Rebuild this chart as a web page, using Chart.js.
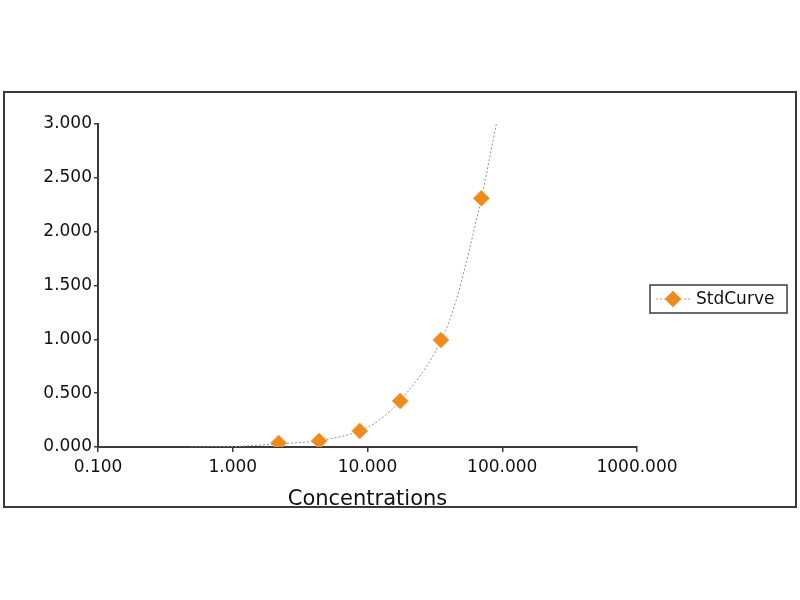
<!DOCTYPE html>
<html>
<head>
<meta charset="utf-8">
<script src="https://cdn.jsdelivr.net/npm/chart.js@4"></script>
<style>
  body { margin: 0; background: #fff; }
  #frame {
    position: absolute; left: 3px; top: 91px;
    width: 790px; height: 413px;
    border: 2px solid #3a3a3a;
  }
  canvas { display: block; }
</style>
</head>
<body>
<div id="frame"><canvas id="c" width="790" height="413"></canvas></div>
<script>
// standards (concentration, OD)
const concentrations = [2.19, 4.38, 8.75, 17.5, 35, 70];
const odValues = [0.037, 0.056, 0.149, 0.427, 0.994, 2.31];

// fitted curve
const curveX = [0.49, 1.0, 2.2, 4.4, 8.75, 12.2, 17.5, 35.2, 45.5, 56.9, 70, 90.4];
const curveY = [0.0, 0.004, 0.03, 0.06, 0.15, 0.25, 0.43, 0.99, 1.36, 1.83, 2.31, 3.0];

const xTicks = [0.1, 1, 10, 100, 1000];
const yTicks = [0, 0.5, 1, 1.5, 2, 2.5, 3];

const seriesLabel = 'StdCurve';
const FONT = '"DejaVu Sans", "Liberation Sans", Arial, sans-serif';
const ORANGE = '#ef8a1c';
const AXIS = '#3a3a3a';

const toXY = (xs, ys) => xs.map((x, i) => ({ x, y: ys[i] }));

// boxed legend on the right, like the original
const boxLegend = {
  id: 'boxLegend',
  afterDraw(chart) {
    const { ctx } = chart;
    const ds = chart.data.datasets.find((d) => d.label === seriesLabel);
    const left = 645, top = 192, w = 137, h = 28;
    const cy = top + h / 2;
    ctx.save();
    ctx.strokeStyle = AXIS;
    ctx.lineWidth = 1.5;
    ctx.strokeRect(left, top, w, h);
    ctx.strokeStyle = '#9a9aa8';
    ctx.lineWidth = 1;
    ctx.setLineDash([2, 2]);
    ctx.beginPath();
    ctx.moveTo(left + 6, cy);
    ctx.lineTo(left + 40, cy);
    ctx.stroke();
    ctx.setLineDash([]);
    Chart.helpers.drawPoint(ctx, {
      pointStyle: 'rectRot', radius: 8, rotation: 0, borderWidth: 1,
    }, left + 23, cy);
    ctx.fillStyle = ds.backgroundColor;
    ctx.strokeStyle = ds.borderColor;
    ctx.fill();
    ctx.stroke();
    ctx.fillStyle = '#111';
    ctx.font = '17px ' + FONT;
    ctx.textBaseline = 'middle';
    ctx.fillText(ds.label, left + 46, cy + 1);
    ctx.restore();
  },
};

new Chart(document.getElementById('c'), {
  type: 'scatter',
  data: {
    datasets: [
      {
        label: seriesLabel,
        data: toXY(concentrations, odValues),
        pointStyle: 'rectRot',
        pointRadius: 8,
        backgroundColor: ORANGE,
        borderColor: '#f4a64f',
        borderWidth: 1,
        order: 0,
      },
      {
        label: 'fit',
        data: toXY(curveX, curveY),
        showLine: true,
        cubicInterpolationMode: 'monotone',
        pointRadius: 0,
        borderColor: '#8f8f9f',
        borderWidth: 1,
        borderDash: [2, 2],
        order: 1,
      },
    ],
  },
  options: {
    responsive: false,
    animation: false,
    layout: { padding: { left: 0, top: 31, right: 158, bottom: 0 } },
    plugins: {
      legend: { display: false },
      tooltip: { enabled: false },
    },
    scales: {
      x: {
        type: 'logarithmic',
        min: 0.1,
        max: 1000,
        afterBuildTicks: (scale) => { scale.ticks = xTicks.map((value) => ({ value })); },
        afterFit: (scale) => { scale.height = 59; },
        ticks: {
          color: '#111',
          font: { family: FONT, size: 17 },
          padding: 5,
          maxRotation: 0,
          callback: (v) => Number(v).toFixed(3),
        },
        grid: { drawOnChartArea: false, drawTicks: true, tickLength: 5, color: AXIS, lineWidth: 1.5 },
        border: { color: AXIS, width: 2 },
        title: {
          display: true,
          text: 'Concentrations',
          color: '#111',
          font: { family: FONT, size: 21 },
          padding: { top: 0, bottom: -6 },
        },
      },
      y: {
        min: 0,
        max: 3,
        afterBuildTicks: (scale) => { scale.ticks = yTicks.map((value) => ({ value })); },
        afterFit: (scale) => { scale.width = 93; },
        ticks: {
          color: '#111',
          font: { family: FONT, size: 17 },
          padding: 2,
          callback: (v) => Number(v).toFixed(3),
        },
        grid: { drawOnChartArea: false, drawTicks: true, tickLength: 4, color: AXIS, lineWidth: 1.5 },
        border: { color: AXIS, width: 2 },
      },
    },
  },
  plugins: [boxLegend],
});
</script>
</body>
</html>
